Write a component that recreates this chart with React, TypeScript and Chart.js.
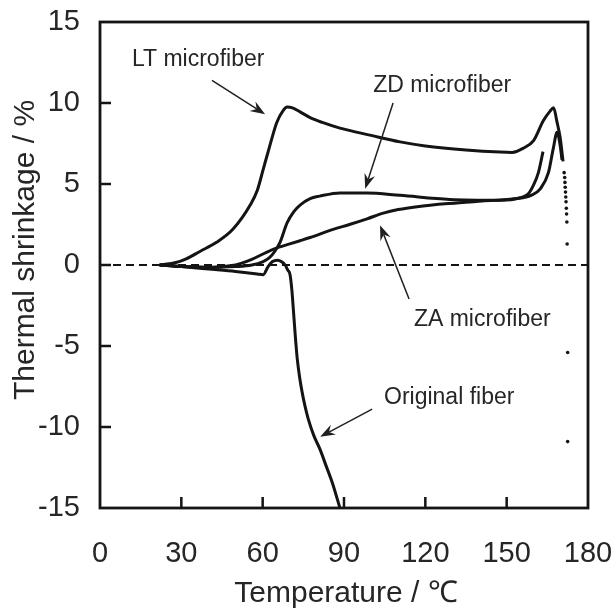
import { useEffect, useRef } from "react";
import { Chart, registerables } from "chart.js";

Chart.register(...registerables);

// Axis ranges and tick steps
const xRange = [0, 180];
const yRange = [-15, 15];
const xStep = 30;
const yStep = 5;
const xInnerTicks = [30, 60, 90, 120, 150];
const yInnerTicks = [-10, -5, 0, 5, 10];

// LT microfiber
const ltTemp = [22, 28, 32, 37, 43, 49, 55.4, 58, 60.2, 62.7, 65.2, 67.6, 69, 71, 73.8, 77.5, 82, 88.5, 100, 110.7, 120, 135, 147.6, 152, 156, 160, 163.5, 166, 167.3, 168.6, 169.7, 170.8];
const ltShrink = [0, 0.15, 0.4, 0.85, 1.4, 2.2, 3.7, 4.6, 5.9, 7.4, 8.8, 9.55, 9.75, 9.7, 9.45, 9.1, 8.8, 8.45, 8.0, 7.6, 7.35, 7.1, 6.97, 6.95, 7.2, 7.7, 8.9, 9.5, 9.7, 8.8, 7.9, 6.4];

// ZD microfiber
const zdTemp = [22, 30, 40, 50, 56, 60, 62.5, 64.5, 66.4, 69, 71.5, 73.8, 77.5, 81, 88.5, 98.5, 110.7, 129, 147.6, 155, 158, 159.8, 161.7, 163.4];
const zdShrink = [0, -0.1, -0.15, -0.1, 0, 0.2, 0.45, 0.85, 1.4, 2.6, 3.3, 3.7, 4.1, 4.25, 4.45, 4.45, 4.3, 4.05, 4.0, 4.15, 4.4, 4.9, 5.7, 7.0];

// ZA microfiber
const zaTemp = [22, 30, 40, 48, 52, 56, 61.6, 66, 70, 73.8, 77.5, 86, 92, 98.5, 104.5, 110, 117, 129, 141, 153.7, 159, 162.4, 165.4, 167.2, 168.6, 169.7, 170.4];
const zaShrink = [0, -0.1, -0.15, -0.05, 0.1, 0.35, 0.8, 1.1, 1.3, 1.5, 1.7, 2.2, 2.5, 2.85, 3.2, 3.42, 3.6, 3.8, 3.95, 4.1, 4.3, 4.7, 5.7, 7.2, 8.2, 7.4, 6.5];

// Original fiber
const origTemp = [22, 30, 40, 50, 58, 60.2, 62, 63.5, 65.5, 67, 68.3, 69.2, 70.1, 70.8, 71.3, 72, 72.7, 73.6, 74.5, 75.6, 76.8, 78.8, 81.2, 83.4, 85.6, 88.5];
const origShrink = [0, -0.1, -0.25, -0.4, -0.55, -0.6, -0.1, 0.2, 0.3, 0.2, 0, -0.3, -0.6, -1.6, -2.7, -4.3, -5.7, -6.9, -7.8, -8.7, -9.5, -10.5, -11.4, -12.4, -13.4, -15];

// Scattered readings near the melting point
const meltTemp = [171.2, 171.4, 171.5, 171.6, 171.7, 171.8, 171.9, 172.0, 172.1, 172.2, 172.3, 172.5, 172.5];
const meltShrink = [5.7, 5.4, 5.1, 4.8, 4.5, 4.2, 3.9, 3.5, 3.15, 2.65, 1.3, -5.4, -10.9];

// Reference line at zero shrinkage
const zeroTemp = [0, 180];
const zeroShrink = [0, 0];

const xTitle = "Temperature / \u2103";
const yTitle = "Thermal shrinkage / %";

// Callout labels with arrows, positioned in data units
const callouts = [
  { text: "LT microfiber", at: [36.2, 12.7], from: [41.3, 11.4], to: [60.9, 9.3] },
  { text: "ZD microfiber", at: [126.2, 11.1], from: [108.1, 10.0], to: [97.8, 4.7] },
  { text: "ZA microfiber", at: [141, -3.4], from: [114, -2.1], to: [103.3, 2.45] },
  { text: "Original fiber", at: [128.8, -8.2], from: [100.4, -8.9], to: [81.2, -10.6] },
];

const FONT = '"Liberation Sans", Arial, Helvetica, sans-serif';
const INK = "#141414";
const TEXT = "#262626";

const pts = (xs: number[], ys: number[]) => xs.map((x, i) => ({ x, y: ys[i] }));

function drawArrow(ctx: CanvasRenderingContext2D, x0: number, y0: number, x1: number, y1: number) {
  const a = Math.atan2(y1 - y0, x1 - x0);
  const c = Math.cos(a);
  const s = Math.sin(a);
  const len = 15;
  const half = 5.5;
  const notch = 10;
  ctx.beginPath();
  ctx.moveTo(x0, y0);
  ctx.lineTo(x1 - notch * c, y1 - notch * s);
  ctx.stroke();
  ctx.beginPath();
  ctx.moveTo(x1, y1);
  ctx.lineTo(x1 - len * c - half * s, y1 - len * s + half * c);
  ctx.lineTo(x1 - notch * c, y1 - notch * s);
  ctx.lineTo(x1 - len * c + half * s, y1 - len * s - half * c);
  ctx.closePath();
  ctx.fill();
}

const decorations = {
  id: "decorations",
  afterDatasetsDraw(chart: any) {
    const { ctx, scales } = chart;
    const xs = scales.x;
    const ys = scales.y;
    const left = xs.getPixelForValue(xRange[0]);
    const right = xs.getPixelForValue(xRange[1]);
    const top = ys.getPixelForValue(yRange[1]);
    const bottom = ys.getPixelForValue(yRange[0]);
    ctx.save();

    // frame around the plotting region
    ctx.strokeStyle = INK;
    ctx.lineWidth = 2.8;
    ctx.strokeRect(left, top, right - left, bottom - top);

    // inward tick marks on the left and bottom axes
    const tickLen = 11;
    ctx.lineWidth = 2.5;
    ctx.beginPath();
    xInnerTicks.forEach((v) => {
      const px = xs.getPixelForValue(v);
      ctx.moveTo(px, bottom);
      ctx.lineTo(px, bottom - tickLen);
    });
    yInnerTicks.forEach((v) => {
      const py = ys.getPixelForValue(v);
      ctx.moveTo(left, py);
      ctx.lineTo(left + tickLen, py);
    });
    ctx.stroke();

    // callouts
    ctx.fillStyle = TEXT;
    ctx.font = `23px ${FONT}`;
    ctx.textAlign = "center";
    ctx.textBaseline = "middle";
    callouts.forEach((c) => {
      ctx.fillText(c.text, xs.getPixelForValue(c.at[0]), ys.getPixelForValue(c.at[1]));
    });
    ctx.strokeStyle = "#202020";
    ctx.fillStyle = "#202020";
    ctx.lineWidth = 1.5;
    callouts.forEach((c) => {
      drawArrow(
        ctx,
        xs.getPixelForValue(c.from[0]),
        ys.getPixelForValue(c.from[1]),
        xs.getPixelForValue(c.to[0]),
        ys.getPixelForValue(c.to[1])
      );
    });

    // axis titles
    ctx.fillStyle = TEXT;
    ctx.font = `30px ${FONT}`;
    ctx.textAlign = "center";
    ctx.textBaseline = "middle";
    ctx.fillText(xTitle, (left + right) / 2 + 2, 594);
    ctx.translate(26, 250);
    ctx.rotate(-Math.PI / 2);
    ctx.fillText(yTitle, 0, 0);
    ctx.restore();
  },
};

export default function App() {
  const canvasRef = useRef<HTMLCanvasElement | null>(null);

  useEffect(() => {
    const canvas = canvasRef.current;
    if (!canvas) return;

    const curve = (data: { x: number; y: number }[]) => ({
      data,
      borderColor: INK,
      borderWidth: 3,
      pointRadius: 0,
      fill: false,
      cubicInterpolationMode: "monotone" as const,
    });

    const chart = new Chart(canvas, {
      type: "line",
      data: {
        datasets: [
          {
            data: pts(zeroTemp, zeroShrink),
            borderColor: INK,
            borderWidth: 2.2,
            borderDash: [8, 5],
            pointRadius: 0,
            fill: false,
          },
          curve(pts(ltTemp, ltShrink)),
          curve(pts(zdTemp, zdShrink)),
          curve(pts(zaTemp, zaShrink)),
          curve(pts(origTemp, origShrink)),
          {
            data: pts(meltTemp, meltShrink),
            showLine: false,
            pointRadius: 1.8,
            pointBorderWidth: 0,
            pointBackgroundColor: INK,
          },
        ],
      },
      options: {
        animation: false,
        responsive: false,
        devicePixelRatio: 1,
        layout: { padding: { top: 22, right: 27, bottom: 0, left: 0 } },
        plugins: {
          legend: { display: false },
          tooltip: { enabled: false },
        },
        scales: {
          x: {
            type: "linear",
            min: xRange[0],
            max: xRange[1],
            afterFit: (s: any) => {
              s.height = 103;
              s.paddingLeft = 0;
              s.paddingRight = 0;
            },
            grid: { display: false },
            border: { display: false },
            ticks: {
              stepSize: xStep,
              color: TEXT,
              padding: 21,
              font: { size: 29, family: FONT },
            },
          },
          y: {
            type: "linear",
            min: yRange[0],
            max: yRange[1],
            afterFit: (s: any) => {
              s.width = 100;
              s.paddingTop = 0;
              s.paddingBottom = 0;
            },
            grid: { display: false },
            border: { display: false },
            ticks: {
              stepSize: yStep,
              color: TEXT,
              padding: 12,
              font: { size: 29, family: FONT },
            },
          },
        },
      },
      plugins: [decorations],
    });

    return () => chart.destroy();
  }, []);

  return (
    <div style={{ position: "fixed", left: 0, top: 0, width: 615, height: 611, background: "#fff" }}>
      <canvas ref={canvasRef} width={615} height={611} style={{ display: "block" }} />
    </div>
  );
}
